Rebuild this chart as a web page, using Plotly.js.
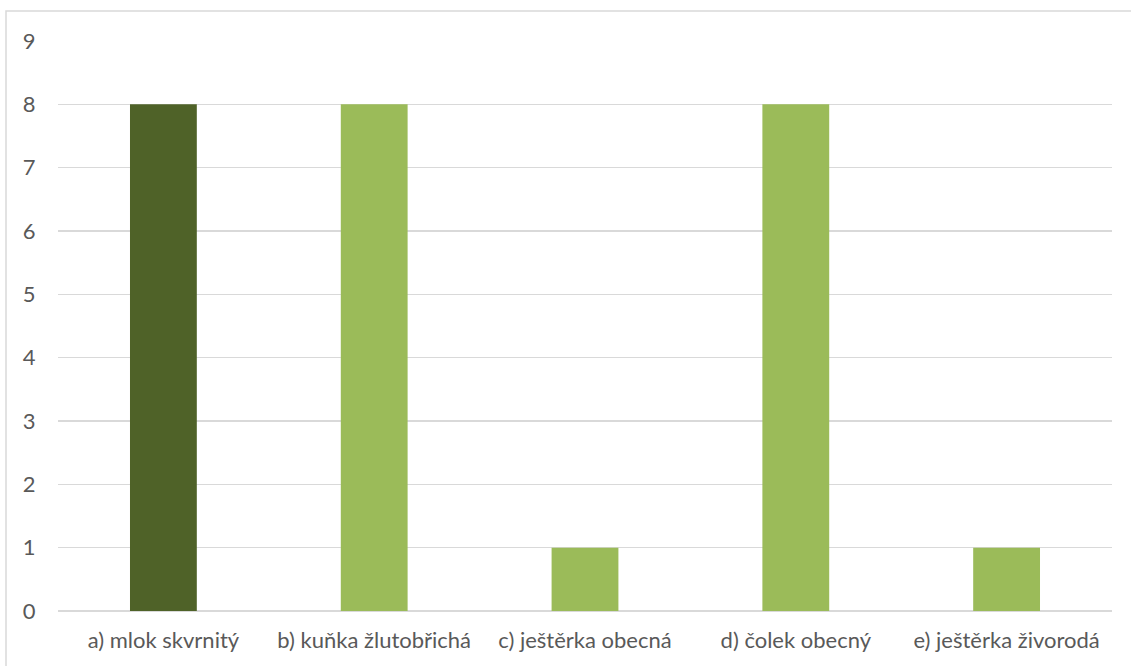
<!DOCTYPE html>
<html>
<head>
<meta charset="utf-8">
<script src="https://cdn.plot.ly/plotly-3.0.1.min.js"></script>
<style>html,body{margin:0;padding:0;background:#fff;}#chart{width:1131px;height:666px;}</style>
</head>
<body>
<div id="chart"></div>
<script>
const categories = ["a) mlok skvrnitý", "b) kuňka žlutobřichá", "c) ještěrka obecná", "d) čolek obecný", "e) ještěrka živorodá"];
const counts = [8, 8, 1, 8, 1];
const barColors = ["#4F6228", "#9BBB59", "#9BBB59", "#9BBB59", "#9BBB59"];
const yTicks = [0, 1, 2, 3, 4, 5, 6, 7, 8, 9];

const W = 1131, H = 666;
const mL = 58, mR = W - 1112, mT = 41, mB = H - 611;
const pw = W - mL - mR, ph = H - mT - mB;

const trace = {
  type: "bar",
  x: categories,
  y: counts,
  marker: {color: barColors, line: {width: 0}},
  width: 0.317,
  hoverinfo: "x+y"
};

const layout = {
  width: W, height: H,
  margin: {l: mL, r: mR, t: mT, b: mB, pad: 0},
  paper_bgcolor: "#fff", plot_bgcolor: "#fff",
  font: {family: "Lato, Open Sans, sans-serif", size: 22, color: "#595959"},
  showlegend: false,
  xaxis: {
    type: "category",
    showgrid: false, zeroline: false, showline: false,
    ticks: "outside", ticklen: 10, tickcolor: "rgba(0,0,0,0)",
    tickfont: {size: 22, color: "#595959"}
  },
  yaxis: {
    range: [0, 9],
    tickvals: yTicks,
    showgrid: true, gridcolor: "#d9d9d9", gridwidth: 1.3,
    zeroline: true, zerolinecolor: "#d9d9d9", zerolinewidth: 1.3,
    showline: false,
    ticks: "outside", ticklen: 17, tickcolor: "rgba(0,0,0,0)",
    tickfont: {size: 22, color: "#595959"}
  },
  shapes: [{
    type: "rect", xref: "paper", yref: "paper",
    x0: (6 - mL) / pw, x1: (1140 - mL) / pw,
    y0: (611 - 680) / ph, y1: (611 - 11) / ph,
    line: {color: "#d9d9d9", width: 1.5},
    fillcolor: "rgba(0,0,0,0)", layer: "below"
  }]
};

Plotly.newPlot("chart", [trace], layout, {displayModeBar: false, staticPlot: true});
</script>
</body>
</html>
